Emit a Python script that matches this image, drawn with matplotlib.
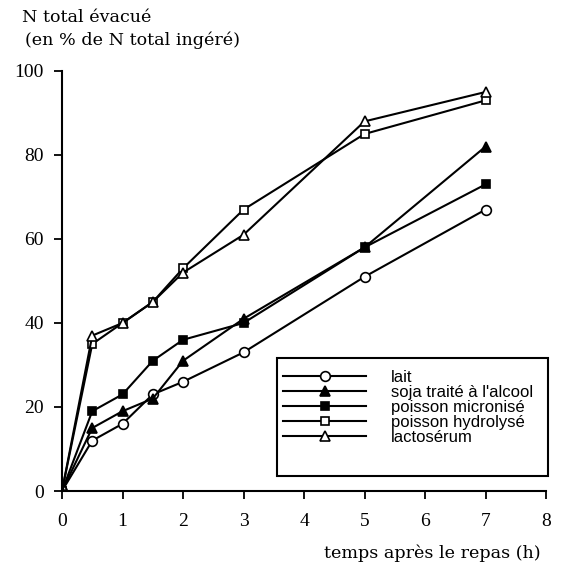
# N total évacué après le repas selon la source de protéines

import numpy as np
import matplotlib.pyplot as plt
from matplotlib.patches import Rectangle

# Temps (h)
temps = [0, 0.5, 1, 1.5, 2, 3, 5, 7]

# N total évacué (en % de N total ingéré)
lait = [0, 12, 16, 23, 26, 33, 51, 67]
soja = [0, 15, 19, 22, 31, 41, 58, 82]
poisson_micronise = [0, 19, 23, 31, 36, 40, 58, 73]
poisson_hydrolyse = [0, 35, 40, 45, 53, 67, 85, 93]
lactoserum = [0, 37, 40, 45, 52, 61, 88, 95]

noms = ["lait", "soja traité à l'alcool", "poisson micronisé",
        "poisson hydrolysé", "lactosérum"]

serif = ["Liberation Serif", "DejaVu Serif"]
sans = ["Liberation Sans", "DejaVu Sans"]
texte = ["DejaVu Serif"]

W, H = 563, 565
fig = plt.figure(figsize=(W / 100, H / 100), dpi=100)
ax = fig.add_axes([62 / W, 1 - 491 / H, 484 / W, 420 / H])

# Series: (valeurs, marqueur, remplissage, taille)
series = [
    (lait, 'o', 'white', 7),
    (soja, '^', 'black', 7.5),
    (poisson_micronise, 's', 'black', 5.5),
    (poisson_hydrolyse, 's', 'white', 5.2),
    (lactoserum, '^', 'white', 7.5),
]

for (y, m, fc, ms), nom in zip(series, noms):
    ax.plot(
        temps,
        y,
        marker=m,
        color='black',
        markerfacecolor=fc,
        markeredgecolor='black',
        markeredgewidth=1.2,
        markersize=ms,
        linewidth=1.5,
        label=nom
    )

ax.set_xlim(0, 8)
ax.set_ylim(0, 100)
ax.set_xticks(range(0, 9))
ax.set_yticks(range(0, 101, 20))

ax.spines['top'].set_visible(False)
ax.spines['right'].set_visible(False)
ax.spines['left'].set_linewidth(1.5)
ax.spines['bottom'].set_linewidth(1.5)
ax.tick_params(direction='out', length=5.5, width=1.3, labelsize=14)
ax.tick_params(axis='x', pad=10)
ax.tick_params(axis='y', pad=7.5)
for lab in ax.get_xticklabels() + ax.get_yticklabels():
    lab.set_family(serif)

fig.text(22 / W, 1 - 18 / H, "N total évacué", family=texte,
         fontsize=12.6, ha='left', va='center')
fig.text(25 / W, 1 - 40 / H, "(en % de N total ingéré)", family=texte,
         fontsize=12.6, ha='left', va='center')
fig.text(541 / W, 1 - 553 / H, "temps après le repas (h)", family=texte,
         fontsize=12.6, ha='right', va='center')

# Cadre de la légende
fig.patches.append(Rectangle((277 / W, 1 - 476 / H), 271 / W, 118 / H,
                             transform=fig.transFigure, fill=False,
                             edgecolor='black', linewidth=1.5))

leg = ax.legend(
    loc='upper left',
    bbox_to_anchor=(277 / W, 1 - 364 / H),
    bbox_transform=fig.transFigure,
    prop={'family': sans, 'size': 12},
    frameon=False,
    handlelength=5.0,
    handletextpad=1.5,
    labelspacing=0.0,
    borderpad=0.35,
    borderaxespad=0,
)

plt.savefig("out.png", dpi=100)
